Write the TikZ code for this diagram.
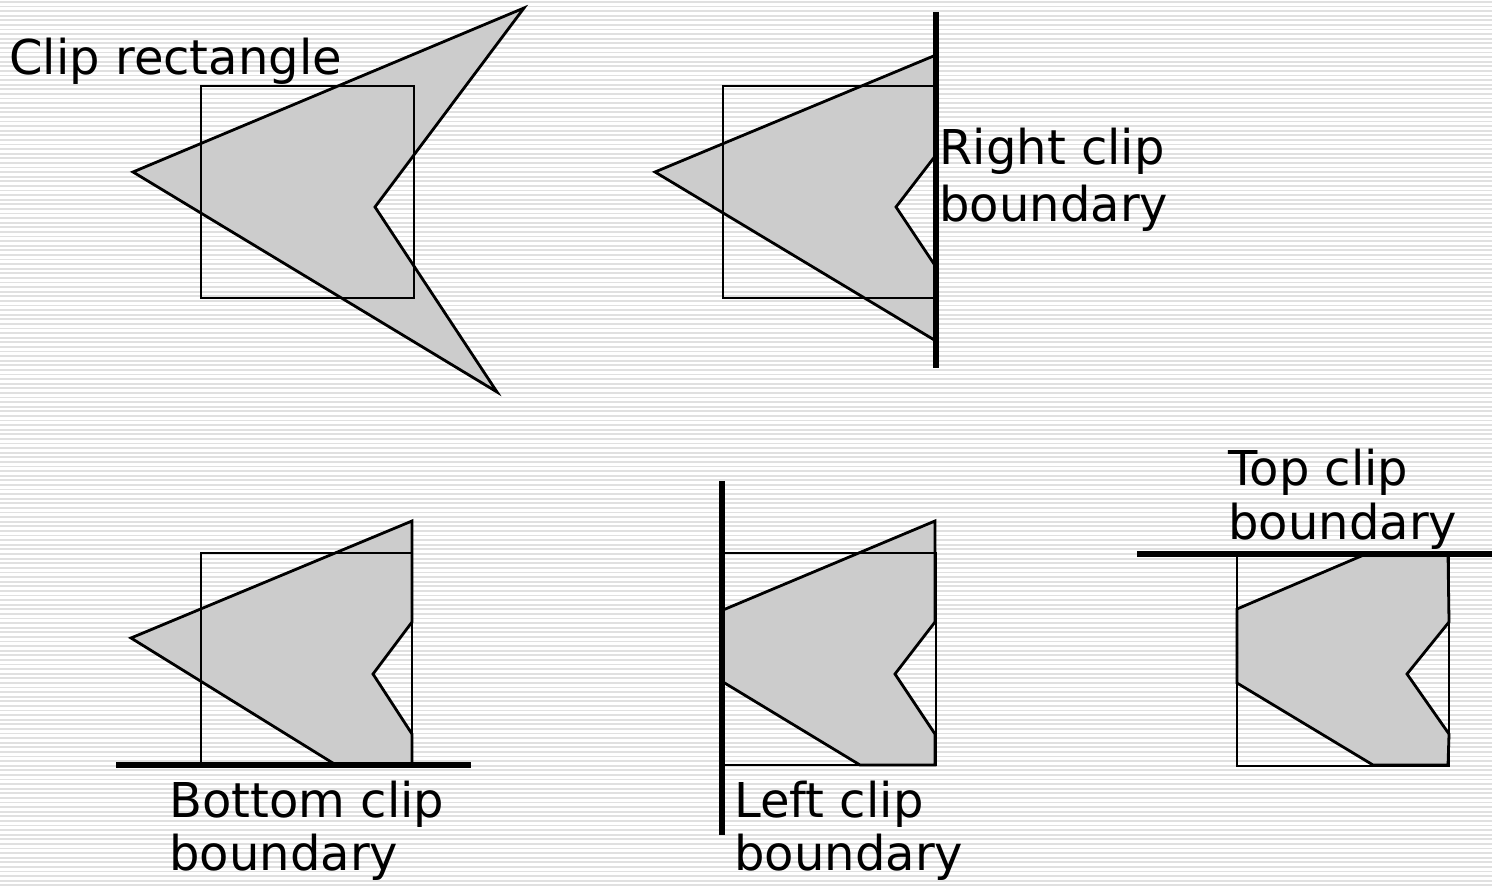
\documentclass[tikz,border=0pt]{standalone}
\usepackage{fontspec}
\setmainfont{DejaVu Sans}
\definecolor{polygray}{HTML}{CCCCCC}
\definecolor{stripegray}{HTML}{E0E0E0}
\begin{document}
\begin{tikzpicture}[x=0.5pt,y=-0.5pt,
  stripe/.style={draw=stripegray, line width=0.9pt},
  poly/.style={fill=polygray, draw=black, line width=1.4pt, line join=miter},
  cliprect/.style={draw=black, line width=1.4pt},
  boundary/.style={draw=black, line width=2.8pt},
  lbl/.style={anchor=base west, inner sep=0pt, font=\fontsize{24}{28}\selectfont}]
\useasboundingbox (0,0) rectangle (1492,886);
\fill[white] (0,0) rectangle (1492,886);
\foreach \i in {0,...,193} \draw[stripe] (0,{2+\i*4.6}) -- (1492,{2+\i*4.6});

% Panel 1: original polygon and clip rectangle
\draw[poly] (524,8) -- (133,172) -- (497,392) -- (375,207) -- cycle;
\draw[cliprect] (201,86) rectangle (414,298);
\node[lbl] (cliplbl) at (9,75) {Clip rectangle};

% Panel 2: right clip boundary
\draw[poly] (936,55) -- (655,172) -- (936,341) -- (936,267) -- (896,207) -- (936,155) -- cycle;
\draw[cliprect] (723,86) rectangle (936,298);
\coordinate (rtop) at (936,12);
\coordinate (rbot) at (936,368);
\draw[boundary] (rtop) -- (rbot);
\node[lbl] (rightlbla) at (939,165) {Right clip};
\node[lbl] (rightlblb) at (939,222) {boundary};

% Panel 3: bottom clip boundary
\draw[poly] (412,521) -- (131,638) -- (336,765) -- (412,765) -- (412,734) -- (373,674) -- (412,622) -- cycle;
\draw[cliprect] (201,553) rectangle (412,765);
\coordinate (bleft) at (116,765);
\coordinate (bright) at (471,765);
\draw[boundary] (bleft) -- (bright);
\node[lbl] (bottomlbla) at (169,817) {Bottom clip};
\node[lbl] (bottomlblb) at (169,870) {boundary};

% Panel 4: left clip boundary
\draw[poly] (935,521) -- (723,610) -- (723,682) -- (860,765) -- (935,765) -- (935,734) -- (895,674) -- (935,622) -- cycle;
\draw[cliprect] (723,553) rectangle (936,765);
\coordinate (ltop) at (722,481);
\coordinate (lbot) at (722,835);
\draw[boundary] (ltop) -- (lbot);
\node[lbl] (leftlbla) at (734,817) {Left clip};
\node[lbl] (leftlblb) at (734,870) {boundary};

% Panel 5: top clip boundary
\draw[poly] (1366,554) -- (1237,609) -- (1237,683) -- (1373,765) -- (1448,765) -- (1449,734) -- (1407,674) -- (1449,622) -- (1448,554) -- cycle;
\draw[cliprect] (1237,554) rectangle (1449,766);
\coordinate (tleft) at (1137,554);
\coordinate (tright) at (1492,554);
\draw[boundary] (tleft) -- (tright);
\node[lbl] (toplbla) at (1228,486) {Top clip};
\node[lbl] (toplblb) at (1228,540) {boundary};
\end{tikzpicture}
\end{document}
